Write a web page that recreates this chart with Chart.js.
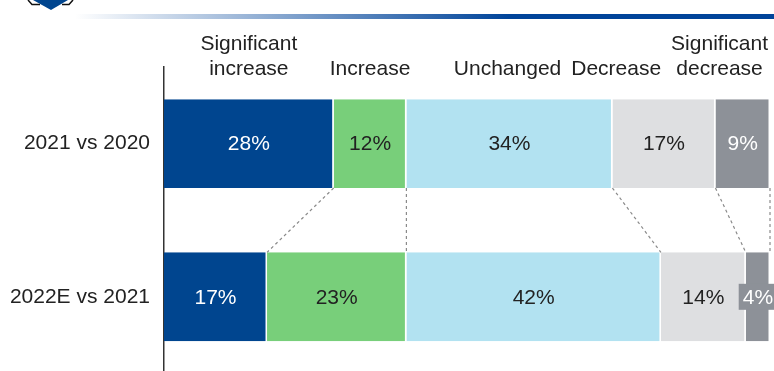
<!DOCTYPE html>
<html>
<head>
<meta charset="utf-8">
<script src="https://cdn.jsdelivr.net/npm/chart.js@4.4.1/dist/chart.umd.min.js"></script>
<style>
  html, body { margin: 0; padding: 0; background: #fff; overflow: hidden; }
  #myChart { position: absolute; left: 0; top: 0; }
  #rule { position: absolute; left: 75px; top: 14px; width: 699px; height: 5px;
          background: linear-gradient(to right, #ffffff 0%, #00449a 62%, #00449a 100%); }
  #logo { position: absolute; left: 0; top: 0; }
</style>
</head>
<body>
<canvas id="myChart" width="774" height="400"></canvas>
<canvas id="logo" width="90" height="14"></canvas>
<div id="rule"></div>
<script>
const rows = ["2021 vs 2020", "2022E vs 2021"];
const headers = [["Significant", "increase"], ["Increase"], ["Unchanged"], ["Decrease"], ["Significant", "decrease"]];
const sigIncrease = [28, 17];
const increase = [12, 23];
const unchanged = [34, 42];
const decrease = [17, 14];
const sigDecrease = [9, 4];

const fills = ["#00458f", "#78cf7a", "#b2e2f1", "#dedfe1", "#8d9198"];
const textColors = ["#ffffff", "#222222", "#222222", "#222222", "#ffffff"];
const FONT = "'Liberation Sans', Arial, sans-serif";

// small emblem peeking in at the top left
function drawLogo() {
  const c = document.getElementById("logo").getContext("2d");
  c.fillStyle = "#00458f";
  c.beginPath();
  c.moveTo(33, 0); c.lineTo(68, 0); c.lineTo(51, 10); c.closePath();
  c.fill();
  c.strokeStyle = "#111";
  c.lineWidth = 1.5;
  c.beginPath();
  c.moveTo(28, 0); c.lineTo(32, 4.5); c.lineTo(40, 4.5);
  c.moveTo(62, 4.5); c.lineTo(69, 4.5); c.lineTo(73, 0);
  c.stroke();
}
drawLogo();

// dashed links between segment boundaries of the two rows
const connectors = {
  id: "connectors",
  afterDatasetsDraw(chart) {
    const ctx = chart.ctx;
    ctx.save();
    ctx.strokeStyle = "#8a8a8a";
    ctx.lineWidth = 1.2;
    ctx.setLineDash([3, 3]);
    chart.data.datasets.forEach((ds, i) => {
      const bars = chart.getDatasetMeta(i).data;
      const a = bars[0], b = bars[1];
      ctx.beginPath();
      ctx.moveTo(a.x, a.y + a.height / 2);
      ctx.lineTo(b.x, b.y - b.height / 2);
      ctx.stroke();
    });
    ctx.restore();
  }
};

// percentage labels inside the segments
const valueLabels = {
  id: "valueLabels",
  afterDatasetsDraw(chart) {
    const ctx = chart.ctx;
    ctx.save();
    ctx.font = "21px " + FONT;
    ctx.textAlign = "center";
    ctx.textBaseline = "middle";
    chart.data.datasets.forEach((ds, i) => {
      chart.getDatasetMeta(i).data.forEach((bar, j) => {
        const txt = ds.data[j] + "%";
        const cx = (bar.x + bar.base) / 2;
        const w = ctx.measureText(txt).width;
        if (w + 4 > Math.abs(bar.x - bar.base)) {
          ctx.fillStyle = fills[i];
          ctx.fillRect(cx - w / 2 - 4, bar.y - 13, w + 8, 26);
        }
        ctx.fillStyle = textColors[i];
        ctx.fillText(txt, cx, bar.y + 1);
      });
    });
    ctx.restore();
  }
};

// category headings above the first row
const headerLabels = {
  id: "headerLabels",
  afterDraw(chart) {
    const ctx = chart.ctx;
    ctx.save();
    ctx.font = "21px " + FONT;
    ctx.fillStyle = "#222";
    ctx.textAlign = "center";
    ctx.textBaseline = "alphabetic";
    const items = headers.map((lines, i) => {
      const bar = chart.getDatasetMeta(i).data[0];
      const w = Math.max(...lines.map(l => ctx.measureText(l).width));
      return { lines, cx: (bar.x + bar.base) / 2, w };
    });
    let limit = chart.width - 6;
    for (let k = items.length - 1; k >= 0; k--) {
      const it = items[k];
      if (it.cx + it.w / 2 > limit) it.cx = limit - it.w / 2;
      limit = it.cx - it.w / 2 - 10;
    }
    items.forEach(it => {
      const n = it.lines.length;
      it.lines.forEach((l, li) => {
        ctx.fillText(l, it.cx, 75 - (n - 1 - li) * 25.5);
      });
    });
    ctx.restore();
  }
};

const series = [sigIncrease, increase, unchanged, decrease, sigDecrease];

new Chart("myChart", {
  type: "bar",
  data: {
    labels: rows,
    datasets: series.map((vals, i) => ({
      label: headers[i].join(" "),
      data: vals,
      backgroundColor: fills[i],
      borderColor: "#ffffff",
      borderWidth: { right: 1.5, left: 0, top: 0, bottom: 0 },
      borderSkipped: false,
      barPercentage: 0.58,
      categoryPercentage: 1
    }))
  },
  options: {
    indexAxis: "y",
    responsive: false,
    animation: false,
    layout: { padding: { top: 67, right: 4, bottom: 0, left: 0 } },
    plugins: {
      legend: { display: false },
      tooltip: { enabled: false },
      title: { display: false }
    },
    scales: {
      x: { stacked: true, min: 0, max: 100, display: false },
      y: {
        stacked: true,
        grid: { display: false, drawTicks: false },
        border: { display: true, color: "#333", width: 1.5 },
        ticks: { padding: 14, color: "#222", font: { family: FONT, size: 21 } },
        afterFit(scale) { scale.width = 164; }
      }
    }
  },
  plugins: [connectors, valueLabels, headerLabels]
});
</script>
</body>
</html>
